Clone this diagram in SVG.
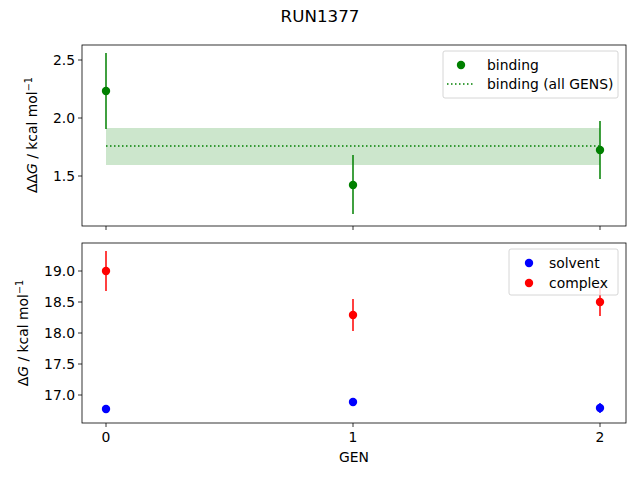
<svg xmlns="http://www.w3.org/2000/svg" width="640" height="480" viewBox="0 0 640 480">
<style>
text{font-family:"DejaVu Sans",sans-serif;font-size:13.9px;fill:#000}
.sup{font-size:9.7px}
.ax{fill:none;stroke:#000;stroke-width:0.8}
.tk{stroke:#000;stroke-width:0.8}
.g{stroke:#008000;stroke-width:1.5}
.r{stroke:#ff0000;stroke-width:1.5}
.b{stroke:#0000ff;stroke-width:1.5}
.leg{fill:#fff;fill-opacity:0.8;stroke:#ccc;stroke-width:0.8}
</style>
<rect width="640" height="480" fill="#fff"/>
<text x="320" y="22" text-anchor="middle" style="font-size:16.7px">RUN1377</text>
<g id="top">
<rect x="106" y="128" width="494" height="37" fill="#008000" fill-opacity="0.2"/>
<line x1="106" y1="146" x2="600" y2="146" stroke="#008000" stroke-width="1.5" stroke-dasharray="1.5,2.5"/>
<line class="g" x1="106" y1="53" x2="106" y2="129"/>
<line class="g" x1="353" y1="155" x2="353" y2="214"/>
<line class="g" x1="600" y1="121" x2="600" y2="179"/>
<circle cx="106" cy="91" r="4.2" fill="#008000"/>
<circle cx="353" cy="185" r="4.2" fill="#008000"/>
<circle cx="600" cy="150" r="4.2" fill="#008000"/>
<rect class="ax" x="82" y="45" width="544" height="181"/>
<g class="tk"><line x1="78" y1="60" x2="82" y2="60"/><line x1="78" y1="118" x2="82" y2="118"/><line x1="78" y1="176" x2="82" y2="176"/>
<line x1="106" y1="226" x2="106" y2="230"/><line x1="353" y1="226" x2="353" y2="230"/><line x1="600" y1="226" x2="600" y2="230"/></g>
<text x="75" y="65" text-anchor="end">2.5</text><text x="75" y="123" text-anchor="end">2.0</text><text x="75" y="181" text-anchor="end">1.5</text>
<text transform="translate(37,135) rotate(-90)" text-anchor="middle">ΔΔ<tspan font-style="italic">G</tspan> / kcal mol<tspan dy="-5" class="sup">−1</tspan></text>
<rect class="leg" x="443" y="51" width="175" height="47" rx="2"/>
<circle cx="461" cy="65" r="4.2" fill="#008000"/>
<text x="487" y="70">binding</text>
<line x1="447" y1="84" x2="475" y2="84" stroke="#008000" stroke-width="1.5" stroke-dasharray="1.5,2.5"/>
<text x="487" y="89">binding (all GENS)</text>
</g>
<g id="bottom">
<line class="r" x1="106" y1="251" x2="106" y2="291"/>
<line class="r" x1="353" y1="299" x2="353" y2="331"/>
<line class="r" x1="600" y1="287" x2="600" y2="316"/>
<line class="b" x1="106" y1="406" x2="106" y2="412"/>
<line class="b" x1="353" y1="398" x2="353" y2="406"/>
<line class="b" x1="600" y1="403" x2="600" y2="413"/>
<circle cx="106" cy="409" r="4.2" fill="#0000ff"/>
<circle cx="353" cy="402" r="4.2" fill="#0000ff"/>
<circle cx="600" cy="408" r="4.2" fill="#0000ff"/>
<circle cx="106" cy="271" r="4.2" fill="#ff0000"/>
<circle cx="353" cy="315" r="4.2" fill="#ff0000"/>
<circle cx="600" cy="302" r="4.2" fill="#ff0000"/>
<rect class="ax" x="82" y="243" width="544" height="180"/>
<g class="tk"><line x1="78" y1="271" x2="82" y2="271"/><line x1="78" y1="302" x2="82" y2="302"/><line x1="78" y1="333" x2="82" y2="333"/><line x1="78" y1="364" x2="82" y2="364"/><line x1="78" y1="395" x2="82" y2="395"/>
<line x1="106" y1="423" x2="106" y2="427"/><line x1="353" y1="423" x2="353" y2="427"/><line x1="600" y1="423" x2="600" y2="427"/></g>
<text x="75" y="276" text-anchor="end">19.0</text><text x="75" y="307" text-anchor="end">18.5</text><text x="75" y="338" text-anchor="end">18.0</text><text x="75" y="369" text-anchor="end">17.5</text><text x="75" y="400" text-anchor="end">17.0</text>
<text x="106" y="442" text-anchor="middle">0</text><text x="353" y="442" text-anchor="middle">1</text><text x="600" y="442" text-anchor="middle">2</text>
<text x="354" y="462" text-anchor="middle">GEN</text>
<text transform="translate(28,333) rotate(-90)" text-anchor="middle">Δ<tspan font-style="italic">G</tspan> / kcal mol<tspan dy="-5" class="sup">−1</tspan></text>
<rect class="leg" x="509" y="249" width="109" height="46" rx="2"/>
<circle cx="529" cy="263" r="4.2" fill="#0000ff"/>
<text x="549" y="268">solvent</text>
<circle cx="529" cy="283" r="4.2" fill="#ff0000"/>
<text x="549" y="288">complex</text>
</g>
</svg>
